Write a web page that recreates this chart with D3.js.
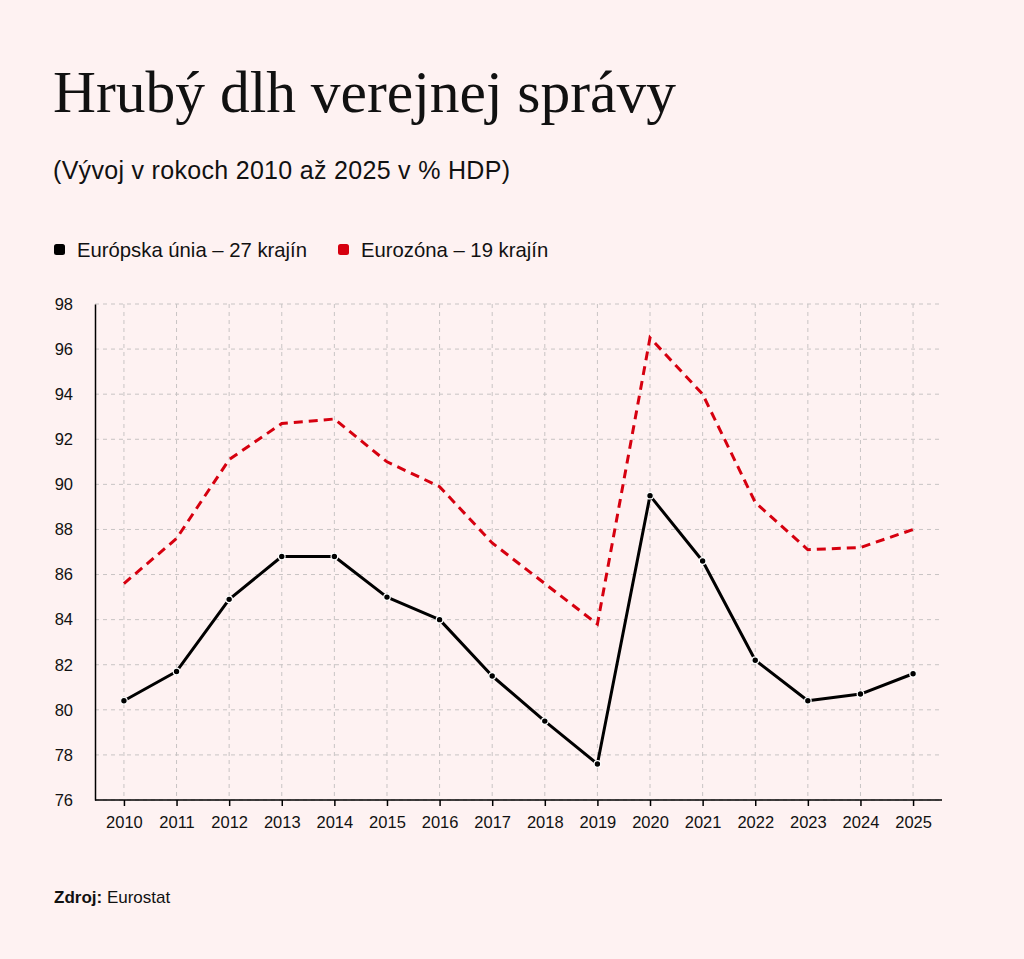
<!DOCTYPE html>
<html>
<head>
<meta charset="utf-8">
<script src="https://cdn.jsdelivr.net/npm/d3@7"></script>
<style>
  html, body { margin: 0; padding: 0; background: #fef2f2; }
  svg { display: block; }
</style>
</head>
<body>
<div id="chart"></div>
<script>
// data
var years = [2010, 2011, 2012, 2013, 2014, 2015, 2016, 2017, 2018, 2019, 2020, 2021, 2022, 2023, 2024, 2025];
var euValues = [80.4, 81.7, 84.9, 86.8, 86.8, 85.0, 84.0, 81.5, 79.5, 77.6, 89.5, 86.6, 82.2, 80.4, 80.7, 81.6];
var ezValues = [85.6, 87.6, 91.1, 92.7, 92.9, 91.0, 89.9, 87.4, 85.6, 83.8, 96.5, 94.0, 89.2, 87.1, 87.2, 88.0];
var yTicks = [76, 78, 80, 82, 84, 86, 88, 90, 92, 94, 96, 98];
var seriesNames = ["Európska únia – 27 krajín", "Eurozóna – 19 krajín"];

var W = 1024, H = 959;
var margin = {top: 304, right: 82, bottom: 159, left: 95},
    width = W - margin.left - margin.right,
    height = H - margin.top - margin.bottom;

var red = "#d6000f";
var sans = "'Liberation Sans', Arial, sans-serif";

var svg = d3.select("#chart")
    .append("svg")
    .attr("width", W)
    .attr("height", H);

svg.append("rect").attr("width", W).attr("height", H).attr("fill", "#fef2f2");

// title + subtitle
svg.append("text")
    .attr("x", 53).attr("y", 112)
    .style("font-family", "'Liberation Serif', 'Times New Roman', serif")
    .style("font-size", "59.5px")
    .attr("fill", "#111")
    .text("Hrubý dlh verejnej správy");

svg.append("text")
    .attr("x", 53).attr("y", 179)
    .style("font-family", sans)
    .style("font-size", "25px")
    .attr("textLength", 457)
    .attr("fill", "#111")
    .text("(Vývoj v rokoch 2010 až 2025 v % HDP)");

// legend
var legendX = [54, 338];
var legendCol = ["#000", red];
seriesNames.forEach(function(name, i) {
    svg.append("rect")
        .attr("x", legendX[i]).attr("y", 244)
        .attr("width", 11).attr("height", 11)
        .attr("rx", 2.5)
        .attr("fill", legendCol[i]);
    svg.append("text")
        .attr("x", legendX[i] + 23).attr("y", 257)
        .style("font-family", sans)
        .style("font-size", "20.3px")
        .attr("fill", "#111")
        .text(name);
});

var g = svg.append("g")
    .attr("transform", `translate(${margin.left},${margin.top})`);

var xScale = d3.scalePoint()
    .domain(years)
    .range([0, width])
    .padding(0.55);

var yScale = d3.scaleLinear()
    .domain([76, 98])
    .range([height, 0]);

// grid
g.append("g")
    .selectAll("line")
    .data(yTicks)
    .enter()
    .append("line")
    .attr("x1", 0).attr("x2", width)
    .attr("y1", d => yScale(d)).attr("y2", d => yScale(d))
    .attr("stroke", "#c8c4c4")
    .attr("stroke-width", 1)
    .attr("stroke-dasharray", "4,4");

g.append("g")
    .selectAll("line")
    .data(years)
    .enter()
    .append("line")
    .attr("x1", d => xScale(d)).attr("x2", d => xScale(d))
    .attr("y1", 0).attr("y2", height)
    .attr("stroke", "#c8c4c4")
    .attr("stroke-width", 1)
    .attr("stroke-dasharray", "4,4");

// axes
var xAxis = g.append("g")
    .attr("transform", `translate(0, ${height})`)
    .call(d3.axisBottom(xScale).tickSize(6).tickPadding(10).tickSizeOuter(0));

var yAxis = g.append("g")
    .call(d3.axisLeft(yScale).tickValues(yTicks).tickSize(0).tickPadding(22));

[xAxis, yAxis].forEach(function(a) {
    a.select(".domain").attr("stroke", "#000").attr("stroke-width", 1.5);
    a.selectAll(".tick line").attr("stroke", "#000").attr("stroke-width", 1.5);
    a.selectAll(".tick text")
        .style("font-family", sans)
        .style("font-size", "16.5px")
        .attr("fill", "#111");
});
xAxis.select(".domain").attr("d", `M0,0H${width}`);

var line = d3.line()
    .x((d, i) => xScale(years[i]))
    .y(d => yScale(d));

// eurozone dashed
g.append("path")
    .datum(ezValues)
    .attr("fill", "none")
    .attr("stroke", red)
    .attr("stroke-width", 3)
    .attr("stroke-dasharray", "9,6")
    .attr("d", line);

// EU solid with markers
g.append("path")
    .datum(euValues)
    .attr("fill", "none")
    .attr("stroke", "#000")
    .attr("stroke-width", 3)
    .attr("stroke-linejoin", "round")
    .attr("d", line);

g.append("g")
    .selectAll("circle")
    .data(euValues)
    .enter()
    .append("circle")
    .attr("cx", (d, i) => xScale(years[i]))
    .attr("cy", d => yScale(d))
    .attr("r", 3.3)
    .attr("fill", "#000")
    .attr("stroke", "#fff")
    .attr("stroke-width", 1.2);

// source
var src = svg.append("text")
    .attr("x", 54).attr("y", 903)
    .style("font-family", sans)
    .style("font-size", "17px")
    .attr("fill", "#111");
src.append("tspan").style("font-weight", "bold").text("Zdroj:");
src.append("tspan").text(" Eurostat");
</script>
</body>
</html>
